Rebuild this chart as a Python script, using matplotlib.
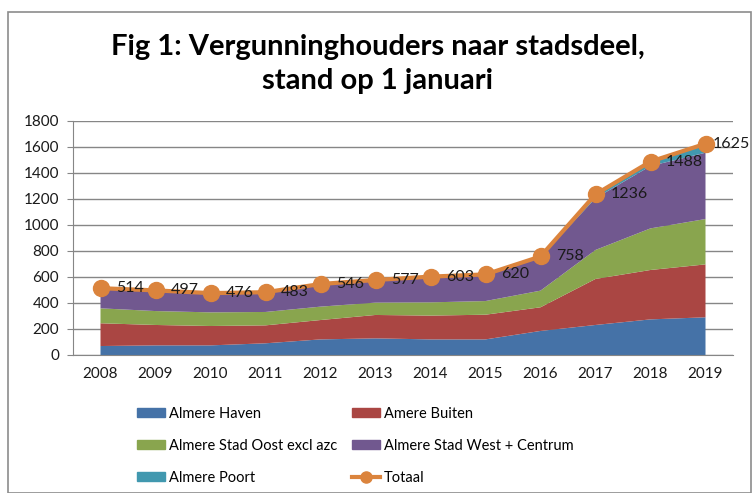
import matplotlib
matplotlib.use("Agg")
import matplotlib.pyplot as plt
import numpy as np
from matplotlib.patches import Rectangle
from matplotlib.lines import Line2D

years = ["2008", "2009", "2010", "2011", "2012", "2013", "2014", "2015", "2016", "2017", "2018", "2019"]
haven = [69, 74, 74, 90, 120, 128, 120, 120, 185, 231, 274, 290]
buiten = [175, 157, 149, 138, 149, 180, 183, 190, 182, 354, 380, 407]
oost = [115, 107, 105, 103, 103, 95, 102, 105, 128, 223, 320, 349]
west = [155, 159, 148, 152, 174, 174, 198, 205, 258, 398, 480, 510]
poort = [0, 0, 0, 0, 0, 0, 0, 0, 5, 30, 34, 69]
totaal = [514, 497, 476, 483, 546, 577, 603, 620, 758, 1236, 1488, 1625]

series_names = ["Almere Haven", "Amere Buiten", "Almere Stad Oost excl azc",
                "Almere Stad West + Centrum", "Almere Poort"]
colors = ["#4572A7", "#AA4643", "#89A54E", "#71588F", "#4198AF"]
orange = "#DB843D"

plt.rcParams['font.family'] = ['Lato', 'DejaVu Sans']

W, H = 755, 493
fig = plt.figure(figsize=(W / 100, H / 100), dpi=100)

# outer frame
fig.add_artist(Rectangle((8 / W, 0), (751 - 8) / W, (H - 12) / H, transform=fig.transFigure,
                         fill=False, edgecolor="#8c8c8c", linewidth=1.2))

fig.text(0.5, 1 - 47 / H, "Fig 1: Vergunninghouders naar stadsdeel,", ha="center", va="center",
         fontsize=21, fontweight="bold", color="black")
fig.text(0.5, 1 - 81 / H, "stand op 1 januari", ha="center", va="center",
         fontsize=21, fontweight="bold", color="black")

ax = fig.add_axes([73 / W, 1 - 355 / H, (733 - 73) / W, (355 - 121) / H])
x = np.arange(len(years))
ax.stackplot(x, haven, buiten, oost, west, poort, colors=colors, zorder=2)
ax.plot(x, totaal, color=orange, linewidth=3, marker="o", markersize=11.5, zorder=4)
for i, v in enumerate(totaal):
    dx = 11 if i < len(totaal) - 1 else 5
    ax.annotate(str(v), (x[i], v), xytext=(dx, 0), textcoords="offset points",
                ha="left", va="center", fontsize=11.5, color="#1a1a1a", zorder=5,
                annotation_clip=False)

ax.set_xlim(-0.5, len(years) - 0.5)
ax.set_ylim(0, 1800)
ax.set_yticks(range(0, 1801, 200))
ax.set_xticks(x)
ax.set_xticklabels(years)
ax.tick_params(axis="both", labelsize=11, colors="#1a1a1a")
ax.tick_params(axis="y", length=4, color="#868686", pad=6)
ax.tick_params(axis="x", length=0, pad=9)
ax.grid(axis="y", color="#868686", linewidth=1, zorder=0)
ax.set_axisbelow(True)
for s in ["top", "right"]:
    ax.spines[s].set_visible(False)
ax.spines["left"].set_color("#868686")
ax.spines["bottom"].set_color("#868686")

handles = [Rectangle((0, 0), 1, 1, color=c) for c in colors]
tot_handle = Line2D([0], [0], color=orange, linewidth=3, marker="o", markersize=8)
order_h = [handles[0], handles[2], handles[4], handles[1], handles[3], tot_handle]
order_l = [series_names[0], series_names[2], series_names[4], series_names[1], series_names[3], "Totaal"]
fig.legend(order_h, order_l, ncol=2, loc="upper left", bbox_to_anchor=(137 / W, 1 - 407 / H),
           frameon=False, fontsize=10.5, handlelength=1.9, handleheight=0.6, handletextpad=0.3,
           columnspacing=1.0, labelspacing=1.22, borderpad=0, borderaxespad=0)

fig.savefig("out.png", dpi=100)
